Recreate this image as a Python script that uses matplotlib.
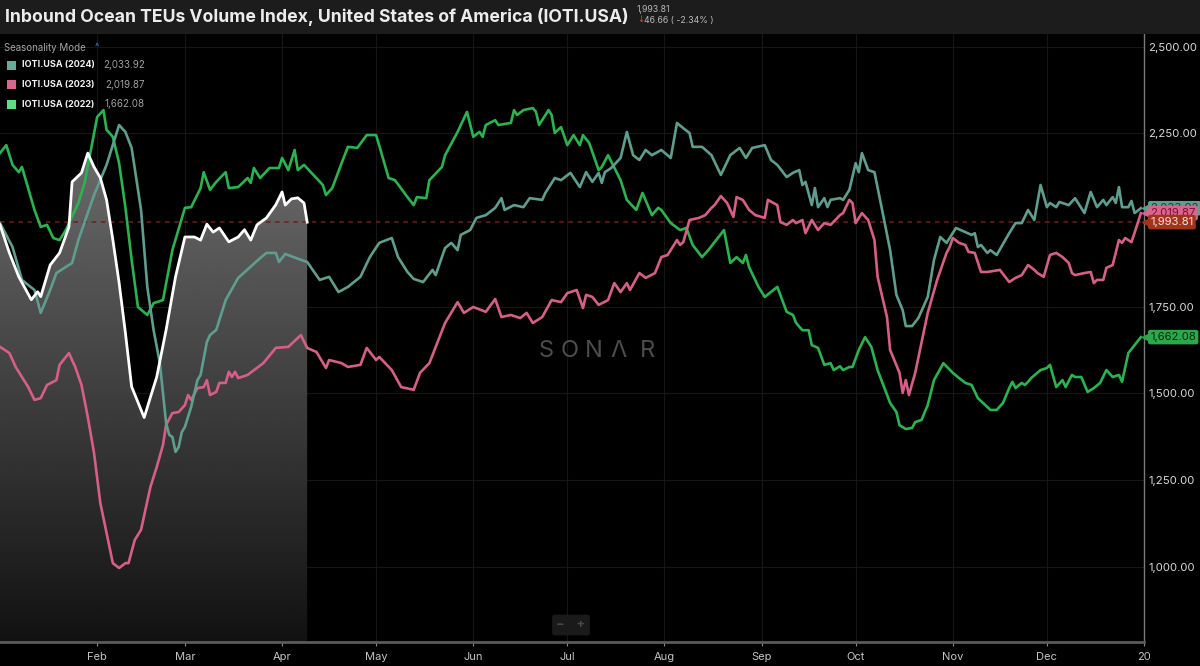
import matplotlib
matplotlib.use('Agg')
import matplotlib.pyplot as plt
import matplotlib.dates as mdates
import numpy as np
from matplotlib.patches import Rectangle
from matplotlib.transforms import blended_transform_factory

plt.rcParams['font.family'] = ['Inter', 'DejaVu Sans']

# (day of year, index value), seasonality mode
iot_2025 = [(0, 1986), (3, 1905), (6, 1836), (10, 1770), (12, 1793), (13, 1779), (16, 1870), (19, 1905),
            (22, 1980), (23, 2110), (26, 2136), (28, 2193), (30, 2153), (32, 2122), (34, 2058), (36, 1943),
            (38, 1819), (40, 1675), (42, 1519), (46, 1430), (48, 1489), (50, 1547), (53, 1683), (56, 1836),
            (59, 1951), (62, 1951), (64, 1942), (66, 1988), (68, 1965), (70, 1977), (73, 1937), (76, 1951),
            (78, 1972), (80, 1942), (82, 1986), (85, 2006), (88, 2044), (90, 2081), (91, 2043), (93, 2061),
            (95, 2064), (97, 2049), (98, 1993.81)]

iot_2024 = [(0, 1991), (4, 1922), (7, 1827), (11, 1798), (13, 1732), (16, 1798), (18, 1847), (23, 1876),
            (25, 1942), (30, 2072), (34, 2159), (38, 2274), (40, 2254), (42, 2208), (45, 2029), (47, 1807),
            (49, 1683), (51, 1587), (53, 1414), (54, 1380), (55, 1374), (56, 1331), (57, 1345), (58, 1388),
            (59, 1403), (61, 1461), (63, 1538), (64, 1553), (66, 1648), (67, 1668), (69, 1683), (72, 1769),
            (76, 1833), (83, 1890), (85, 1905), (88, 1905), (89, 1879), (91, 1902), (96, 1885), (98, 1879),
            (102, 1827), (105, 1836), (108, 1792), (111, 1807), (115, 1836), (118, 1893), (121, 1934),
            (125, 1948), (127, 1893), (130, 1850), (132, 1830), (135, 1821), (138, 1856), (139, 1841),
            (142, 1919), (144, 1934), (146, 1913), (147, 1957), (150, 1971), (152, 2006), (155, 2014),
            (158, 2035), (160, 2063), (161, 2029), (164, 2043), (167, 2037), (169, 2063), (173, 2058),
            (174, 2078), (177, 2121), (179, 2115), (182, 2136), (185, 2095), (187, 2138), (189, 2110),
            (191, 2136), (192, 2107), (193, 2138), (195, 2150), (198, 2179), (200, 2254), (202, 2187),
            (204, 2173), (206, 2202), (208, 2187), (211, 2202), (214, 2179), (216, 2280), (218, 2265),
            (220, 2251), (221, 2211), (224, 2211), (227, 2187), (230, 2130), (233, 2187), (236, 2208),
            (238, 2179), (240, 2208), (244, 2216), (246, 2173), (248, 2159), (251, 2124), (253, 2136),
            (255, 2144), (256, 2101), (257, 2110), (259, 2043), (260, 2092), (261, 2037), (263, 2063),
            (264, 2037), (265, 2058), (268, 2063), (269, 2058), (271, 2087), (273, 2164), (274, 2138),
            (275, 2193), (277, 2144), (279, 2138), (281, 2049), (284, 1913), (286, 1784), (288, 1740),
            (289, 1694), (291, 1694), (293, 1717), (296, 1778), (298, 1885), (300, 1951), (302, 1934),
            (305, 1977), (308, 1965), (310, 1957), (311, 1962), (312, 1922), (313, 1928), (315, 1905),
            (316, 1913), (318, 1899), (322, 1962), (324, 1991), (326, 1991), (328, 2029), (330, 2000),
            (332, 2101), (334, 2037), (335, 2049), (337, 2037), (338, 2052), (341, 2043), (343, 2063),
            (346, 2020), (348, 2081), (350, 2037), (352, 2058), (353, 2043), (355, 2066), (356, 2049),
            (357, 2095), (358, 2037), (360, 2037), (361, 2055), (362, 2020), (364, 2033.92)]

iot_2023 = [(0, 1634), (3, 1616), (5, 1576), (9, 1518), (11, 1481), (13, 1486), (15, 1524), (18, 1538),
            (19, 1582), (22, 1616), (24, 1576), (26, 1524), (28, 1432), (30, 1328), (32, 1184), (34, 1097),
            (36, 1010), (38, 996), (40, 1010), (41, 1010), (43, 1077), (45, 1106), (48, 1230), (50, 1287),
            (52, 1351), (53, 1409), (55, 1443), (57, 1446), (59, 1466), (60, 1495), (61, 1481), (63, 1515),
            (65, 1518), (66, 1538), (67, 1495), (69, 1504), (70, 1530), (72, 1530), (73, 1562), (74, 1547),
            (75, 1562), (76, 1544), (79, 1553), (84, 1587), (88, 1631), (92, 1634), (96, 1668), (98, 1631),
            (101, 1619), (104, 1573), (105, 1596), (109, 1587), (111, 1576), (115, 1582), (117, 1631),
            (120, 1596), (121, 1605), (125, 1567), (128, 1518), (132, 1510), (134, 1559), (137, 1587),
            (142, 1703), (146, 1763), (148, 1732), (151, 1749), (155, 1735), (158, 1772), (160, 1720),
            (163, 1726), (166, 1717), (168, 1732), (170, 1703), (173, 1720), (176, 1769), (179, 1763),
            (181, 1789), (184, 1798), (186, 1746), (187, 1784), (189, 1778), (191, 1755), (194, 1769),
            (196, 1818), (198, 1792), (200, 1818), (201, 1798), (204, 1847), (206, 1833), (209, 1847),
            (211, 1893), (213, 1899), (216, 1942), (217, 1928), (218, 1936), (220, 2000), (223, 2006),
            (225, 2014), (227, 2035), (228, 2043), (230, 2069), (232, 2049), (234, 2009), (235, 2066),
            (237, 2058), (239, 2029), (241, 2014), (244, 2006), (245, 2058), (248, 2043), (249, 1994),
            (251, 1986), (253, 2000), (254, 1991), (256, 2000), (257, 1962), (259, 2000), (261, 1971),
            (263, 1991), (265, 1986), (268, 2014), (269, 2020), (271, 2058), (272, 2049), (273, 1991),
            (275, 2020), (277, 2000), (279, 1942), (280, 1836), (283, 1720), (284, 1625), (287, 1559),
            (288, 1501), (289, 1538), (290, 1495), (292, 1559), (294, 1645), (296, 1732), (299, 1827),
            (302, 1905), (303, 1922), (304, 1948), (306, 1934), (308, 1928), (309, 1908), (311, 1905),
            (313, 1850), (315, 1850), (319, 1856), (322, 1821), (324, 1833), (326, 1841), (328, 1870),
            (330, 1856), (331, 1847), (333, 1836), (335, 1899), (337, 1905), (339, 1893), (341, 1876),
            (342, 1847), (343, 1841), (346, 1847), (348, 1850), (349, 1818), (350, 1827), (352, 1827),
            (353, 1862), (355, 1870), (357, 1942), (358, 1934), (359, 1948), (361, 1936), (363, 1991),
            (364, 2019.87)]

iot_2022 = [(0, 2193), (2, 2216), (4, 2159), (6, 2138), (7, 2153), (11, 2029), (13, 1980), (15, 1986),
            (17, 1948), (19, 1942), (21, 1971), (25, 2049), (27, 2107), (29, 2202), (31, 2297), (33, 2317),
            (34, 2260), (36, 2240), (38, 2164), (40, 2037), (42, 1885), (44, 1749), (47, 1726), (49, 1760),
            (52, 1769), (55, 1913), (59, 2035), (61, 2037), (64, 2092), (65, 2138), (67, 2087), (69, 2110),
            (72, 2138), (73, 2092), (76, 2095), (79, 2121), (80, 2107), (81, 2150), (83, 2121), (86, 2150),
            (89, 2150), (90, 2179), (92, 2144), (94, 2202), (95, 2144), (97, 2159), (100, 2130), (103, 2101),
            (104, 2072), (106, 2092), (109, 2164), (111, 2211), (114, 2208), (117, 2245), (120, 2245),
            (121, 2215), (124, 2121), (126, 2115), (130, 2066), (132, 2043), (133, 2066), (136, 2063),
            (137, 2115), (141, 2153), (142, 2187), (146, 2254), (149, 2312), (151, 2240), (153, 2254),
            (154, 2240), (155, 2274), (158, 2288), (159, 2274), (163, 2280), (164, 2317), (165, 2303),
            (167, 2317), (170, 2323), (171, 2312), (172, 2274), (175, 2317), (176, 2303), (177, 2251),
            (179, 2268), (181, 2216), (183, 2245), (185, 2216), (186, 2245), (188, 2222), (191, 2144),
            (192, 2153), (194, 2187), (198, 2115), (200, 2058), (203, 2029), (205, 2078), (208, 2014),
            (210, 2035), (211, 2029), (214, 1991), (217, 1971), (219, 1977), (221, 1928), (224, 1893),
            (226, 1913), (228, 1936), (231, 1971), (233, 1876), (235, 1893), (237, 1876), (238, 1899),
            (239, 1864), (242, 1807), (244, 1778), (248, 1807), (251, 1735), (253, 1726), (254, 1703),
            (256, 1682), (258, 1682), (259, 1639), (261, 1631), (263, 1582), (265, 1587), (266, 1567),
            (268, 1578), (269, 1567), (271, 1576), (272, 1576), (274, 1625), (276, 1662), (278, 1634),
            (280, 1567), (284, 1472), (286, 1446), (287, 1408), (289, 1397), (291, 1400), (292, 1417),
            (294, 1423), (296, 1466), (298, 1538), (301, 1587), (304, 1559), (306, 1544), (308, 1530),
            (310, 1524), (312, 1486), (316, 1452), (318, 1452), (320, 1472), (322, 1515), (323, 1533),
            (324, 1515), (326, 1530), (327, 1524), (328, 1533), (329, 1544), (332, 1567), (334, 1573),
            (335, 1582), (337, 1518), (339, 1538), (340, 1518), (342, 1553), (343, 1547), (345, 1547),
            (347, 1504), (349, 1515), (351, 1530), (353, 1567), (355, 1547), (357, 1553), (358, 1533),
            (360, 1616), (362, 1639), (364, 1662.08)]

legend_names = ['IOTI.USA (2024)', 'IOTI.USA (2023)', 'IOTI.USA (2022)']
legend_values = ['2,033.92', '2,019.87', '1,662.08']
month_labels = ['Feb', 'Mar', 'Apr', 'May', 'Jun', 'Jul', 'Aug', 'Sep', 'Oct', 'Nov', 'Dec', '20']
y_ticks = [1000, 1250, 1500, 1750, 2250, 2500]
last_value = 1993.81

c2024 = '#5f9e8f'
c2023 = '#d65f8a'
c2022 = '#2bb34f'

base = np.datetime64('2025-01-01')


def to_xy(pairs):
    d = np.array([p[0] for p in pairs])
    v = np.array([p[1] for p in pairs], dtype=float)
    return base + d.astype('timedelta64[D]'), v


W, H = 1200, 666
fig = plt.figure(figsize=(12, 6.66), dpi=100, facecolor='black')

# title bar
fig.patches.append(Rectangle((0, 1 - 34 / H), 1, 34 / H, transform=fig.transFigure,
                             facecolor='#1c1c1c', edgecolor='none', zorder=0))

ax = fig.add_axes([0, 1 - 642 / H, 1144 / W, (642 - 34) / H])
ax.set_facecolor('black')
ylo, yhi = 782.5, 2536.6
x_end = base + np.timedelta64(365, 'D')

ax.grid(True, color='#161616', lw=0.8)

# 2025 area with vertical grey gradient
x25, y25 = to_xy(iot_2025)
poly = ax.fill_between(x25, y25, ylo, facecolor='none', edgecolor='none')
grad = np.linspace(0.07, 0.5, 256).reshape(-1, 1)
im = ax.imshow(grad, extent=[mdates.date2num(x25[0]), mdates.date2num(x25[-1]), ylo, yhi],
               origin='lower', aspect='auto', cmap='gray', vmin=0, vmax=1, zorder=2)
im.set_clip_path(poly.get_paths()[0], transform=ax.transData)

ax.axhline(last_value, color='#6b2216', lw=1.1, ls=(0, (3, 3)), zorder=2.5)

for pairs, col in [(iot_2022, c2022), (iot_2023, c2023), (iot_2024, c2024)]:
    xs, ys = to_xy(pairs)
    ax.plot(xs, ys, color=col, lw=1.9, zorder=3)
ax.plot(x25, y25, color='white', lw=2.0, zorder=4)

ax.set_xlim(base, x_end)
ax.set_ylim(ylo, yhi)

months = [np.datetime64('2025-%02d-01' % m) for m in range(2, 13)] + [np.datetime64('2026-01-01')]
ax.set_xticks(months)
ax.set_xticklabels(month_labels)
ax.set_yticks(y_ticks)
ax.set_yticklabels(['{:,.2f}'.format(v) for v in y_ticks])
ax.yaxis.tick_right()
ax.tick_params(axis='x', colors='#8a8a8a', labelcolor='#c4c4c4', labelsize=8, length=3, pad=4)
ax.tick_params(axis='y', length=0, labelcolor='#d8d8d8', labelsize=8.2, pad=3)
for s in ['top', 'left']:
    ax.spines[s].set_visible(False)
ax.spines['bottom'].set_color('#5a5a5a')
ax.spines['bottom'].set_linewidth(2)
ax.spines['right'].set_color('#7a7a7a')
ax.spines['right'].set_linewidth(1)

# price tags on the right edge
trans = blended_transform_factory(ax.transAxes, ax.transData)
tags = [(2033.92, '2,033.92', c2024, '#1d3b34'),
        (2019.87, '2,019.87', '#d9648c', '#7a1232'),
        (last_value, '1,993.81', '#a3341c', '#f3e4e0'),
        (1662.08, '1,662.08', '#2aa84a', '#0b2a12')]
for val, txt, face, tcol in tags:
    ax.plot([1.003], [val], marker='<', ms=7, color=face, transform=trans, clip_on=False, zorder=6)
    ax.annotate(txt, xy=(1.0, val), xycoords=trans, xytext=(4.5, 0), textcoords='offset points',
                ha='left', va='center', fontsize=8.2, color=tcol, annotation_clip=False, zorder=7,
                bbox=dict(boxstyle='round,pad=0.2,rounding_size=0.2', fc=face, ec='none'))

# watermark
for ch, px in zip(['S', 'O', 'N', 'Λ', 'R'], [546, 570, 594, 619, 648]):
    fig.text(px / W, 1 - 351 / H, ch, color='#4d4d4d', fontsize=17, fontweight='normal',
             ha='center', va='center')

# zoom buttons
fig.text(571 / W, 1 - 625 / H, '−    +', color='#4a4a4a', fontsize=9, fontweight='bold',
         ha='center', va='center',
         bbox=dict(boxstyle='round,pad=0.35,rounding_size=0.2', fc='#1a1a1a', ec='none'))

# title
fig.text(5 / W, 1 - 17 / H, 'Inbound Ocean TEUs Volume Index, United States of America (IOTI.USA)',
         color='#ececec', fontsize=12.7, fontweight='bold', ha='left', va='center')
fig.text(637 / W, 1 - 10 / H, '1,993.81', color='#b8b8b8', fontsize=6.3, ha='left', va='center')
fig.text(637 / W, 1 - 20 / H, '↓', color='#e0443a', fontsize=6.3, ha='left', va='center',
         family=['DejaVu Sans'])
fig.text(644 / W, 1 - 20 / H, '46.66 ( -2.34% )', color='#b8b8b8', fontsize=6.3, ha='left', va='center')

# legend
fig.text(4 / W, 1 - 48 / H, 'Seasonality Mode', color='#a6a6a6', fontsize=7, ha='left', va='center')
fig.text(95 / W, 1 - 48 / H, '^', color='#3d8bd9', fontsize=6.5, ha='left', va='center')
for i, (name, val, col) in enumerate(zip(legend_names, legend_values, ['#6fa898', '#d9668f', '#5ee07f'])):
    yy = 1 - (65 + 19.5 * i) / H
    fig.patches.append(Rectangle((7 / W, yy - 4.5 / H), 9 / W, 9 / H, transform=fig.transFigure,
                                 facecolor=col, edgecolor='none'))
    fig.text(22 / W, yy, name, color='#f2f2f2', fontsize=6.5, fontweight='bold', ha='left', va='center')
    fig.text(145 / W, yy, val, color='#a0a0a0', fontsize=7, ha='right', va='center')

fig.savefig('out.png', dpi=100, facecolor='black')
